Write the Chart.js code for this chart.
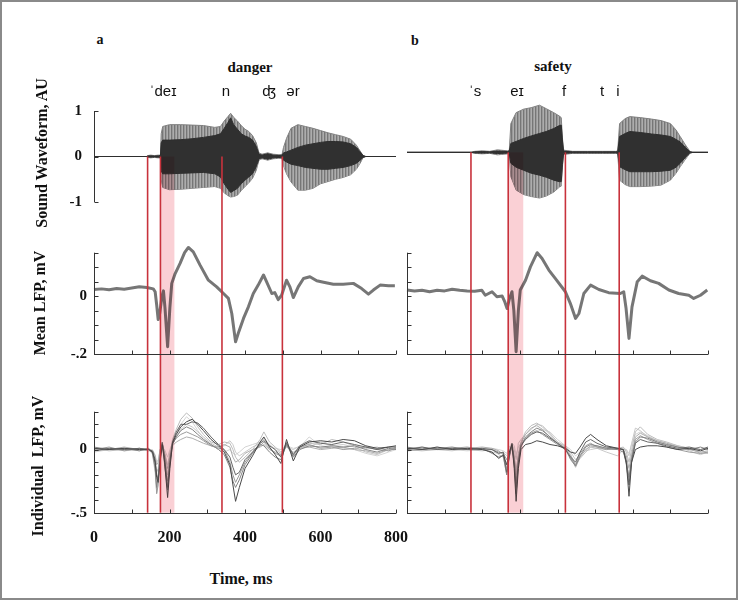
<!DOCTYPE html>
<html>
<head>
<meta charset="utf-8">
<script src="https://cdn.jsdelivr.net/npm/chart.js@4.4.0/dist/chart.umd.min.js"></script>
<style>
  html, body { margin: 0; padding: 0; background: #fff; }
  #fig { position: relative; width: 740px; height: 601px; overflow: hidden; }
  #frame { position: absolute; left: 0; top: 0; width: 734px; height: 596px; border: 2px solid #8a8a8a; }
  .box { position: absolute; }
  .txt { position: absolute; transform: translate(-50%, -50%); white-space: nowrap; color: #111; }
  .serif { font-family: "Liberation Serif", "Times New Roman", serif; font-weight: bold; }
  .ipa { font-family: "Liberation Sans", "DejaVu Sans", sans-serif; font-size: 15px; }
  .ytitle { transform: translate(-50%, -50%) rotate(-90deg); font-size: 16px; }
</style>
</head>
<body>
<div id="fig">
  <div id="frame"></div>
  <div class="box" id="wA" style="left:0;top:90px;width:400px;height:140px"></div>
  <div class="box" id="mA" style="left:0;top:230px;width:400px;height:150px"></div>
  <div class="box" id="iA" style="left:0;top:380px;width:430px;height:190px"></div>
  <div class="box" id="wB" style="left:400px;top:90px;width:320px;height:140px"></div>
  <div class="box" id="mB" style="left:400px;top:230px;width:320px;height:150px"></div>
  <div class="box" id="iB" style="left:400px;top:380px;width:320px;height:190px"></div>

  <div class="txt serif" style="left:100px;top:40px;font-size:14px">a</div>
  <div class="txt serif" style="left:415px;top:41px;font-size:14px">b</div>
  <div class="txt serif" style="left:250px;top:67px;font-size:15px">danger</div>
  <div class="txt serif" style="left:553px;top:66px;font-size:15px">safety</div>

  <div class="txt ipa" style="left:163px;top:90px">ˈdeɪ</div>
  <div class="txt ipa" style="left:226px;top:90px">n</div>
  <div class="txt ipa" style="left:269px;top:90px">ʤ</div>
  <div class="txt ipa" style="left:293px;top:90px">ər</div>
  <div class="txt ipa" style="left:475px;top:90px">ˈs</div>
  <div class="txt ipa" style="left:517px;top:90px">eɪ</div>
  <div class="txt ipa" style="left:564px;top:90px">f</div>
  <div class="txt ipa" style="left:602px;top:90px">t</div>
  <div class="txt ipa" style="left:618px;top:90px">i</div>

  <div class="txt serif ytitle" style="left:42px;top:153px">Sound Waveform, AU</div>
  <div class="txt serif ytitle" style="left:40px;top:303px">Mean LFP, mV</div>
  <div class="txt serif ytitle" style="left:38px;top:466px">Individual&nbsp; LFP, mV</div>
  <div class="txt serif" style="left:241px;top:579px;font-size:16px">Time, ms</div>
</div>

<script>
// ---- boundaries (ms) ----
const dangerBounds = [142, 176, 339, 499];
const dangerBand = [176, 213];
const safetyBounds = [170, 269, 421, 564];
const safetyBand = [269, 309];

// ---- ticks ----
const xTicks = [0, 100, 200, 300, 400, 500, 600, 700, 800];
const xLabels = [0, 200, 400, 600, 800];
const waveTicks = [-1, 0, 1];
const meanTicks = [-0.2, -0.15, -0.1, -0.05, 0, 0.05, 0.1, 0.15];
const meanLabels = [-0.2, 0];
const indTicks = [-0.5, -0.4, -0.3, -0.2, -0.1, 0, 0.1, 0.2, 0.3];
const indLabels = [-0.5, 0];

// ---- sound waveform envelopes, "danger" ----
const wfTimeA = [0, 140, 142, 150, 160, 170, 176, 178, 182, 200, 230, 260, 290, 320, 335, 345, 355, 362, 370, 380,
  390, 400, 410, 420, 430, 437, 445, 460, 475, 490, 498, 502, 510, 522, 540, 560, 580, 600, 620, 640,
  660, 680, 695, 705, 713, 720, 800];
const wfOuterHiA = [0, 0, 0.02, 0.03, 0.02, 0.03, 0.03, 0.5, 0.66, 0.7, 0.7, 0.69, 0.68, 0.64, 0.66, 0.78, 0.88, 0.95, 0.86, 0.78,
  0.68, 0.6, 0.55, 0.46, 0.3, 0.08, 0.05, 0.08, 0.05, 0.04, 0.04, 0.2, 0.4, 0.62, 0.7, 0.66, 0.62, 0.57, 0.52, 0.48,
  0.44, 0.38, 0.25, 0.12, 0.02, 0, 0];
const wfOuterLoA = [0, 0, -0.02, -0.03, -0.02, -0.03, -0.03, -0.5, -0.68, -0.73, -0.72, -0.7, -0.68, -0.66, -0.7, -0.8, -0.86, -0.89, -0.88, -0.85,
  -0.75, -0.66, -0.58, -0.48, -0.3, -0.08, -0.05, -0.08, -0.05, -0.04, -0.04, -0.2, -0.38, -0.56, -0.74, -0.74, -0.7, -0.6, -0.55, -0.5,
  -0.46, -0.4, -0.28, -0.15, -0.02, 0, 0];
const wfInnerHiA = [0, 0, 0.01, 0.015, 0.01, 0.015, 0.02, 0.3, 0.36, 0.36, 0.37, 0.39, 0.42, 0.46, 0.5, 0.62, 0.75, 0.85, 0.7, 0.6,
  0.5, 0.45, 0.42, 0.36, 0.22, 0.05, 0.03, 0.06, 0.03, 0.02, 0.03, 0.08, 0.1, 0.14, 0.2, 0.25, 0.28, 0.31, 0.33, 0.33,
  0.32, 0.28, 0.2, 0.1, 0.02, 0, 0];
const wfInnerLoA = [0, 0, -0.01, -0.015, -0.01, -0.015, -0.02, -0.32, -0.38, -0.38, -0.37, -0.36, -0.35, -0.38, -0.45, -0.6, -0.72, -0.79, -0.75, -0.7,
  -0.6, -0.52, -0.45, -0.38, -0.22, -0.05, -0.03, -0.06, -0.03, -0.02, -0.03, -0.08, -0.12, -0.17, -0.2, -0.24, -0.26, -0.28, -0.28, -0.26,
  -0.24, -0.2, -0.15, -0.08, -0.02, 0, 0];

// ---- sound waveform envelopes, "safety" ----
const wfTimeB = [0, 170, 180, 200, 220, 240, 255, 268, 272, 276, 290, 310, 330, 352, 370, 390, 405, 410, 413, 416,
  420, 440, 480, 520, 555, 560, 565, 580, 592, 620, 650, 675, 700, 715, 726, 740, 752, 760, 800];
const wfOuterHiB = [0, 0, 0.02, 0.03, 0.02, 0.05, 0.04, 0.03, 0.05, 0.58, 0.8, 0.87, 0.9, 0.95, 0.88, 0.8, 0.73, 0.7, 0.3, 0.05,
  0.04, 0.02, 0.02, 0.02, 0.02, 0.03, 0.58, 0.68, 0.72, 0.7, 0.67, 0.64, 0.58, 0.45, 0.32, 0.15, 0.02, 0, 0];
const wfOuterLoB = [0, 0, -0.02, -0.03, -0.02, -0.05, -0.04, -0.03, -0.05, -0.49, -0.76, -0.85, -0.89, -0.92, -0.88, -0.8, -0.7, -0.68, -0.3, -0.05,
  -0.04, -0.02, -0.02, -0.02, -0.02, -0.03, -0.56, -0.65, -0.69, -0.69, -0.68, -0.66, -0.56, -0.42, -0.29, -0.14, -0.02, 0, 0];
const wfInnerHiB = [0, 0, 0.01, 0.015, 0.01, 0.025, 0.02, 0.015, 0.03, 0.18, 0.22, 0.28, 0.33, 0.38, 0.42, 0.48, 0.54, 0.55, 0.25, 0.03,
  0.02, 0.01, 0.01, 0.01, 0.01, 0.015, 0.32, 0.38, 0.42, 0.4, 0.37, 0.35, 0.32, 0.26, 0.21, 0.1, 0.01, 0, 0];
const wfInnerLoB = [0, 0, -0.01, -0.015, -0.01, -0.025, -0.02, -0.015, -0.03, -0.22, -0.3, -0.36, -0.42, -0.46, -0.5, -0.56, -0.59, -0.59, -0.25, -0.03,
  -0.02, -0.01, -0.01, -0.01, -0.01, -0.015, -0.29, -0.35, -0.39, -0.39, -0.39, -0.38, -0.36, -0.3, -0.22, -0.1, -0.01, 0, 0];

// ---- mean LFP (mV) ----
const meanTimeA = [0, 20, 40, 60, 80, 100, 120, 140, 157, 162, 166, 170, 174, 180, 184, 188, 195, 201, 206, 215,
  228, 240, 250, 263, 281, 303, 325, 343, 356, 365, 375, 382, 396, 409, 422, 435, 449, 457, 471, 479,
  488, 497, 510, 519, 528, 541, 555, 572, 590, 608, 634, 660, 687, 709, 727, 740, 758, 780, 797];
const meanA = [0.023, 0.025, 0.022, 0.026, 0.024, 0.028, 0.032, 0.03, 0.025, 0.015, -0.03, -0.081, -0.06, 0.0, 0.018, -0.04, -0.175, -0.04, 0.044, 0.078,
  0.113, 0.15, 0.168, 0.153, 0.107, 0.055, 0.032, 0.009, -0.008, -0.06, -0.158, -0.129, -0.077, -0.037, 0.009, 0.038, 0.073, 0.05, 0.009, 0.012,
  -0.012, 0.003, 0.055, 0.032, -0.005, 0.032, 0.061, 0.067, 0.053, 0.048, 0.041, 0.041, 0.044, 0.026, 0.007, 0.021, 0.038, 0.036, 0.036];
const meanTimeB = [0, 20, 40, 60, 80, 100, 120, 140, 160, 180, 199, 208, 226, 239, 253, 260, 266, 272, 279, 284,
  290, 296, 301, 315, 328, 346, 359, 377, 394, 421, 434, 448, 457, 470, 488, 510, 536, 567, 576, 582,
  590, 598, 612, 625, 647, 669, 696, 722, 749, 762, 780, 798];
const meanB = [0.021, 0.018, 0.02, 0.015, 0.02, 0.018, 0.024, 0.02, 0.018, 0.017, 0.02, 0.003, 0.015, -0.002, 0.0, -0.02, -0.043, -0.01, 0.015, -0.05,
  -0.192, -0.05, 0.021, 0.055, 0.101, 0.15, 0.13, 0.09, 0.061, 0.015, -0.025, -0.077, -0.06, 0.009, 0.038, 0.023, 0.012, 0.009, 0.015, -0.04,
  -0.146, -0.037, 0.05, 0.069, 0.053, 0.044, 0.021, 0.009, 0.003, -0.008, 0.003, 0.021];

// ---- individual LFP traces (mV), "danger" ----
const indTimeA = [0, 40, 80, 120, 145, 155, 162, 166, 170, 175, 181, 187, 195, 201, 208, 218, 230, 245, 260, 275,
  290, 310, 330, 345, 360, 368, 375, 385, 400, 420, 440, 450, 465, 480, 495, 510, 528, 545, 570, 600,
  630, 660, 690, 720, 750, 780, 800];
const indA1 = [0.01, 0.0, 0.01, 0.0, 0.0, -0.02, -0.1, -0.22, -0.26, -0.1, 0.04, -0.1, -0.38, -0.15, 0.05, 0.12, 0.18, 0.22, 0.24, 0.2,
  0.15, 0.08, 0.03, -0.02, -0.12, -0.28, -0.41, -0.3, -0.15, -0.05, 0.06, 0.1, 0.02, -0.04, -0.11, 0.08, -0.09, 0.02, 0.06, 0.07,
  0.06, 0.08, 0.07, 0.03, 0.01, 0.02, 0.03];
const indA2 = [-0.01, 0.01, 0.0, 0.01, 0.0, -0.01, -0.08, -0.2, -0.24, -0.08, 0.05, -0.06, -0.3, -0.1, 0.06, 0.14, 0.2, 0.2, 0.22, 0.21,
  0.17, 0.1, 0.04, 0.0, -0.06, -0.14, -0.2, -0.18, -0.08, -0.02, 0.05, 0.07, 0.03, 0.0, -0.06, 0.05, -0.04, 0.03, 0.07, 0.05,
  0.04, 0.06, 0.04, 0.02, 0.0, 0.02, 0.02];
const indA3 = [0.02, 0.0, 0.01, -0.01, 0.01, -0.03, -0.15, -0.3, -0.2, -0.05, 0.06, -0.12, -0.32, -0.12, 0.04, 0.1, 0.15, 0.18, 0.16, 0.12,
  0.08, 0.04, 0.0, -0.04, -0.14, -0.25, -0.3, -0.24, -0.12, -0.03, 0.04, 0.03, -0.02, -0.06, -0.08, 0.04, -0.06, 0.0, 0.03, 0.02,
  0.03, 0.02, 0.03, 0.0, -0.02, 0.01, 0.0];
const indA4 = [0.0, 0.02, -0.01, 0.01, 0.0, -0.02, -0.12, -0.35, -0.28, -0.06, 0.05, -0.08, -0.25, -0.08, 0.05, 0.09, 0.12, 0.14, 0.12, 0.1,
  0.07, 0.03, 0.01, 0.0, -0.1, -0.2, -0.26, -0.2, -0.1, -0.02, 0.03, 0.06, 0.01, -0.03, -0.05, 0.06, -0.05, 0.02, 0.04, 0.01,
  0.02, 0.0, 0.01, 0.02, 0.0, -0.01, 0.01];
const indA5 = [-0.01, 0.0, 0.02, 0.0, -0.01, -0.01, -0.05, -0.12, -0.1, 0.0, 0.04, -0.03, -0.15, -0.05, 0.03, 0.06, 0.08, 0.1, 0.09, 0.07,
  0.05, 0.03, 0.02, 0.04, 0.02, -0.06, -0.1, -0.08, -0.03, 0.0, 0.02, 0.04, 0.0, -0.02, -0.04, 0.03, -0.03, 0.01, 0.02, 0.0,
  0.01, 0.02, 0.0, -0.01, -0.03, 0.0, 0.01];
const indA6 = [0.01, -0.01, 0.0, 0.01, 0.0, -0.02, -0.1, -0.18, -0.15, -0.02, 0.06, -0.04, -0.2, -0.04, 0.08, 0.16, 0.24, 0.29, 0.25, 0.18,
  0.12, 0.06, 0.04, 0.06, 0.05, 0.0, -0.06, -0.1, -0.06, 0.0, 0.08, 0.14, 0.06, 0.02, -0.02, 0.02, -0.02, 0.01, 0.05, 0.04,
  0.08, 0.06, 0.03, 0.01, 0.02, -0.01, 0.02];
const indA7 = [0.0, 0.01, -0.01, 0.0, 0.01, -0.04, -0.18, -0.34, -0.22, -0.04, 0.03, -0.02, -0.12, -0.02, 0.04, 0.1, 0.16, 0.2, 0.18, 0.14,
  0.1, 0.05, 0.02, 0.03, 0.07, 0.04, -0.02, -0.05, -0.02, 0.02, 0.05, 0.09, 0.04, 0.0, -0.03, 0.02, 0.0, 0.03, 0.02, 0.06,
  0.03, 0.04, 0.02, -0.02, -0.04, 0.0, 0.0];
const indA8 = [-0.02, 0.0, 0.01, -0.01, 0.0, 0.0, -0.04, -0.1, -0.08, 0.0, 0.02, 0.0, -0.06, 0.0, 0.05, 0.12, 0.2, 0.26, 0.22, 0.15,
  0.09, 0.04, 0.0, -0.02, 0.0, -0.03, -0.04, -0.02, 0.02, 0.04, 0.06, 0.08, 0.03, 0.01, 0.0, 0.03, 0.01, 0.02, 0.1, 0.03,
  0.02, 0.01, 0.0, -0.03, -0.05, -0.02, 0.0];

// ---- individual LFP traces (mV), "safety" ----
const indTimeB = [0, 40, 80, 120, 160, 200, 226, 244, 256, 265, 272, 279, 285, 290, 296, 303, 315, 330, 345, 360,
  380, 400, 421, 435, 448, 460, 475, 488, 505, 530, 560, 575, 583, 590, 597, 607, 620, 640, 665, 690,
  720, 750, 780, 800];
const indB1 = [0.01, 0.0, 0.02, 0.0, 0.01, 0.0, -0.02, -0.07, -0.04, -0.12, -0.02, 0.04, -0.15, -0.41, -0.15, 0.0, 0.04, 0.05, 0.07, 0.06,
  0.04, 0.03, 0.01, -0.02, -0.03, 0.02, 0.09, 0.12, 0.08, 0.03, 0.01, 0.0, -0.1, -0.37, -0.1, 0.0, 0.02, 0.03, 0.03, 0.02,
  0.0, 0.01, -0.01, 0.01];
const indB2 = [0.0, 0.02, 0.0, 0.01, 0.0, 0.01, 0.0, -0.03, -0.02, -0.18, -0.05, 0.05, -0.1, -0.3, -0.1, 0.03, 0.08, 0.12, 0.14, 0.13,
  0.09, 0.05, 0.0, -0.06, -0.1, -0.02, 0.06, 0.08, 0.05, 0.02, 0.01, 0.0, -0.12, -0.28, -0.1, 0.05, 0.08, 0.06, 0.05, 0.03,
  0.01, 0.02, 0.0, 0.02];
const indB3 = [0.02, 0.0, 0.01, 0.02, 0.0, 0.01, -0.03, -0.06, -0.05, -0.2, -0.06, 0.03, -0.12, -0.35, -0.12, 0.02, 0.1, 0.14, 0.17, 0.15,
  0.1, 0.05, 0.01, -0.08, -0.13, -0.05, 0.02, 0.04, 0.03, 0.01, 0.0, -0.02, -0.1, -0.22, -0.08, 0.06, 0.1, 0.09, 0.06, 0.04,
  0.02, 0.0, 0.02, 0.0];
const indB4 = [0.01, 0.01, 0.0, 0.01, 0.02, 0.0, 0.0, -0.02, -0.03, -0.08, -0.02, 0.04, -0.08, -0.25, -0.08, 0.04, 0.09, 0.13, 0.15, 0.12,
  0.08, 0.04, 0.0, -0.07, -0.12, -0.03, 0.03, 0.05, 0.02, 0.0, 0.01, 0.0, -0.08, -0.24, -0.06, 0.08, 0.11, 0.08, 0.05, 0.02,
  0.0, -0.02, -0.03, -0.02];
const indB5 = [-0.01, 0.0, 0.01, 0.0, 0.01, 0.02, 0.01, -0.01, -0.04, -0.15, -0.03, 0.03, -0.05, -0.2, -0.05, 0.05, 0.12, 0.17, 0.19, 0.16,
  0.1, 0.05, 0.01, -0.05, -0.14, -0.06, 0.0, 0.03, 0.02, 0.01, 0.0, 0.0, -0.05, -0.15, -0.04, 0.1, 0.13, 0.1, 0.07, 0.05,
  0.02, 0.0, -0.02, -0.01];
const indB6 = [0.0, -0.01, 0.0, 0.01, 0.0, -0.01, 0.0, -0.04, -0.06, -0.2, -0.04, 0.02, -0.06, -0.16, -0.03, 0.06, 0.14, 0.19, 0.21, 0.18,
  0.12, 0.06, 0.02, -0.04, -0.12, -0.07, -0.02, 0.02, 0.01, 0.0, 0.01, 0.02, -0.02, -0.1, 0.0, 0.14, 0.18, 0.12, 0.08, 0.06,
  0.03, 0.01, -0.03, -0.03];
const indB7 = [0.01, 0.02, 0.0, -0.01, 0.01, 0.0, -0.02, -0.03, -0.02, -0.05, 0.0, 0.04, 0.0, -0.08, 0.05, 0.08, 0.12, 0.16, 0.2, 0.19,
  0.13, 0.06, 0.03, -0.02, -0.08, -0.04, -0.01, 0.0, 0.01, -0.02, -0.05, 0.0, 0.0, -0.05, 0.05, 0.17, 0.15, 0.1, 0.06, 0.04,
  0.02, -0.01, -0.04, -0.02];
const indB8 = [-0.01, 0.0, 0.02, 0.0, -0.01, 0.0, 0.01, 0.0, -0.01, -0.03, 0.02, 0.05, 0.03, -0.04, 0.02, 0.05, 0.08, 0.12, 0.14, 0.16,
  0.14, 0.08, 0.03, 0.0, -0.05, -0.02, 0.0, 0.02, 0.03, 0.01, 0.0, 0.01, 0.0, -0.03, 0.04, 0.12, 0.14, 0.11, 0.07, 0.05,
  0.03, 0.01, 0.0, -0.03];

const traceGrays = ['#4a4a4a', '#676767', '#858585', '#9c9c9c', '#adadad', '#bdbdbd', '#c9c9c9', '#d4d4d4'];
const serif = '"Liberation Serif", "Times New Roman", serif';

function pts(ts, vs) {
  return ts.map((t, i) => ({ x: t, y: vs[i] }));
}

// striped grey for the outer (pitch pulse) envelope
const stripeCanvas = document.createElement('canvas');
stripeCanvas.width = 3; stripeCanvas.height = 1;
const sctx = stripeCanvas.getContext('2d');
sctx.fillStyle = '#767676'; sctx.fillRect(0, 0, 1, 1);
sctx.fillStyle = '#999999'; sctx.fillRect(1, 0, 1, 1);
sctx.fillStyle = '#adadad'; sctx.fillRect(2, 0, 1, 1);
const stripes = sctx.createPattern(stripeCanvas, 'repeat');

function fmtTick(v) {
  if (v === 0) return '0';
  if (v > -1 && v < 0) return '-' + String(Math.abs(v)).replace('0.', '.');
  return String(v);
}

// red boundary lines, pink band, inward-ticked axes and time labels
const figDecor = {
  id: 'figDecor',
  afterDatasetsDraw(chart, args, o) {
    const ctx = chart.ctx, xs = chart.scales.x, ys = chart.scales.y, a = chart.chartArea;
    const top = o.fromZero ? ys.getPixelForValue(0) : 0;
    const bottom = o.toAxis ? a.bottom : chart.height;
    ctx.save();
    // band
    ctx.globalCompositeOperation = 'multiply';
    ctx.fillStyle = '#fad0d5';
    const b0 = xs.getPixelForValue(o.band[0]), b1 = xs.getPixelForValue(o.band[1]);
    ctx.fillRect(b0, top, b1 - b0, bottom - top);
    ctx.globalCompositeOperation = 'source-over';
    // red lines
    ctx.strokeStyle = '#c8323c';
    ctx.lineWidth = 1.6;
    o.bounds.forEach(t => {
      const px = xs.getPixelForValue(t);
      ctx.beginPath(); ctx.moveTo(px, top); ctx.lineTo(px, bottom); ctx.stroke();
    });
    // axes
    ctx.strokeStyle = '#333';
    ctx.lineWidth = 1;
    if (o.yTicks) {
      const x0 = Math.round(a.left) + 0.5;
      const yt = ys.getPixelForValue(o.yTicks[o.yTicks.length - 1]);
      const yb = ys.getPixelForValue(o.yTicks[0]);
      ctx.beginPath(); ctx.moveTo(x0, yt); ctx.lineTo(x0, yb); ctx.stroke();
      o.yTicks.forEach(v => {
        const py = Math.round(ys.getPixelForValue(v)) + 0.5;
        ctx.beginPath(); ctx.moveTo(x0, py); ctx.lineTo(x0 + 4, py); ctx.stroke();
      });
    }
    if (o.xTicks) {
      const y0 = Math.round(a.bottom) + 0.5;
      ctx.beginPath(); ctx.moveTo(a.left, y0); ctx.lineTo(a.right, y0); ctx.stroke();
      o.xTicks.forEach(v => {
        const px = Math.round(xs.getPixelForValue(v)) + 0.5;
        ctx.beginPath(); ctx.moveTo(px, y0); ctx.lineTo(px, y0 - 4); ctx.stroke();
      });
    }
    if (o.xLabels) {
      ctx.fillStyle = '#111';
      ctx.font = 'bold 16px ' + serif;
      ctx.textAlign = 'center';
      ctx.textBaseline = 'middle';
      o.xLabels.forEach(v => ctx.fillText(String(v), xs.getPixelForValue(v), a.bottom + 25));
    }
    ctx.restore();
  }
};

function yLeft(min, max, labels, pad) {
  return {
    min: min, max: max,
    afterBuildTicks: s => { s.ticks = labels.map(v => ({ value: v })); },
    ticks: { callback: fmtTick, color: '#111', padding: pad, font: { family: serif, size: 15, weight: 'bold' } },
    grid: { display: false, drawTicks: false },
    border: { display: false },
    afterFit: s => { s.width = 94; }
  };
}

function xHidden() {
  return { type: 'linear', min: 0, max: 800, display: false };
}

function waveSets(t, oHi, oLo, iHi, iLo) {
  return [
    { data: pts(t, oHi), borderColor: '#808080', borderWidth: 1, backgroundColor: stripes, fill: '+1', order: 2 },
    { data: pts(t, oLo), borderColor: '#808080', borderWidth: 1, fill: false, order: 2 },
    { data: pts(t, iHi), borderColor: '#2e2e2e', borderWidth: 1, backgroundColor: '#303030', fill: '+1', order: 1 },
    { data: pts(t, iLo), borderColor: '#2e2e2e', borderWidth: 1, fill: false, order: 1 }
  ];
}

function meanSet(t, v) {
  return [{ data: pts(t, v), borderColor: '#767676', borderWidth: 3, borderJoinStyle: 'round', fill: false, clip: false }];
}

function indSets(t, traces) {
  return traces.map((v, i) => ({ data: pts(t, v), borderColor: traceGrays[i], borderWidth: 1, fill: false }));
}

function panel(boxId, cfg) {
  const canvas = document.createElement('canvas');
  document.getElementById(boxId).appendChild(canvas);
  return new Chart(canvas, {
    type: 'line',
    data: { datasets: cfg.datasets },
    options: {
      responsive: true,
      maintainAspectRatio: false,
      animation: false,
      layout: { padding: cfg.padding, autoPadding: false },
      elements: { point: { radius: 0 }, line: { tension: 0 } },
      plugins: { legend: { display: false }, tooltip: { enabled: false }, figDecor: cfg.decor },
      scales: { x: cfg.x, y: cfg.y }
    },
    plugins: [figDecor]
  });
}

// ---- column a: danger ----
panel('wA', {
  datasets: waveSets(wfTimeA, wfOuterHiA, wfOuterLoA, wfInnerHiA, wfInnerLoA),
  padding: { left: 0, right: 4, top: 12.7, bottom: 28 },
  x: xHidden(),
  y: yLeft(-1, 1, waveTicks, 12),
  decor: { bounds: dangerBounds, band: dangerBand, fromZero: true, toAxis: false, yTicks: waveTicks, xTicks: null }
});
panel('mA', {
  datasets: meanSet(meanTimeA, meanA),
  padding: { left: 0, right: 4, top: 22.7, bottom: 26 },
  x: xHidden(),
  y: yLeft(-0.2, 0.15, meanLabels, 7),
  decor: { bounds: dangerBounds, band: dangerBand, fromZero: false, toAxis: false, yTicks: meanTicks, xTicks: xTicks }
});
panel('iA', {
  datasets: indSets(indTimeA, [indA1, indA2, indA3, indA4, indA5, indA6, indA7, indA8]),
  padding: { left: 0, right: 34, top: 31.7, bottom: 57.3 },
  x: xHidden(),
  y: yLeft(-0.5, 0.3, indLabels, 7),
  decor: { bounds: dangerBounds, band: dangerBand, fromZero: false, toAxis: true, yTicks: indTicks, xTicks: xTicks, xLabels: xLabels }
});

// ---- column b: safety ----
panel('wB', {
  datasets: waveSets(wfTimeB, wfOuterHiB, wfOuterLoB, wfInnerHiB, wfInnerLoB),
  padding: { left: 7, right: 12, top: 12.7, bottom: 28 },
  x: xHidden(),
  y: { min: -1, max: 1, display: false },
  decor: { bounds: safetyBounds, band: safetyBand, fromZero: true, toAxis: false, yTicks: null, xTicks: null }
});
panel('mB', {
  datasets: meanSet(meanTimeB, meanB),
  padding: { left: 7, right: 12, top: 22.7, bottom: 26 },
  x: xHidden(),
  y: { min: -0.2, max: 0.15, display: false },
  decor: { bounds: safetyBounds, band: safetyBand, fromZero: false, toAxis: false, yTicks: meanTicks, xTicks: xTicks }
});
panel('iB', {
  datasets: indSets(indTimeB, [indB1, indB2, indB3, indB4, indB5, indB6, indB7, indB8]),
  padding: { left: 7, right: 12, top: 31.7, bottom: 57.3 },
  x: xHidden(),
  y: { min: -0.5, max: 0.3, display: false },
  decor: { bounds: safetyBounds, band: safetyBand, fromZero: false, toAxis: true, yTicks: indTicks, xTicks: xTicks }
});
</script>
</body>
</html>
